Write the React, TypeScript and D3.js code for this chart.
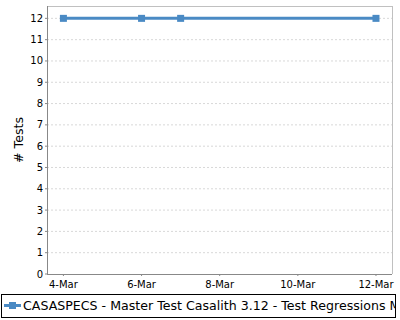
import React from "react";
import * as d3 from "d3";

const dates = ["2015-03-04", "2015-03-06", "2015-03-07", "2015-03-12"];
const tests = [12, 12, 12, 12];
const xTickLabels = ["4-Mar", "6-Mar", "8-Mar", "10-Mar", "12-Mar"];
const xTickDates = ["2015-03-04", "2015-03-06", "2015-03-08", "2015-03-10", "2015-03-12"];
const yTicks = [0, 1, 2, 3, 4, 5, 6, 7, 8, 9, 10, 11, 12];
const seriesName = "CASASPECS - Master Test Casalith 3.12 - Test Regressions Master";

const W = 400, H = 320;
const left = 47, right = 392, top = 6, bottom = 274;
const font = "DejaVu Sans, sans-serif";
const blue = "#4a8ac4";

function parse(s: string) {
  return new Date(s + "T00:00:00Z");
}

export default function App() {
  const t0 = parse(dates[0]).getTime();
  const day = 86400000;
  const x = d3.scaleUtc()
    .domain([new Date(t0 - 0.42 * day), new Date(parse("2015-03-12").getTime() + 0.41 * day)])
    .range([left, right]);
  const y = d3.scaleLinear().domain([0, 12.58]).range([bottom, top]);
  const pts = dates.map((d, i) => [x(parse(d)), y(tests[i])] as [number, number]);
  const line = d3.line()(pts) || "";
  return (
    <svg width={W} height={H} style={{ position: "absolute", left: 0, top: 0, background: "#fff" }} fontFamily={font}>
      <defs>
        <clipPath id="legclip">
          <rect x={2} y={294} width={393} height={24} />
        </clipPath>
      </defs>
      <rect x={0} y={0} width={W} height={H} fill="#fff" />
      {yTicks.map((v) => (
        <g key={v}>
          {v > 0 && (
            <line x1={left} x2={right} y1={y(v)} y2={y(v)} stroke="#d8d8d8" strokeWidth={1} strokeDasharray="2,2" />
          )}
          <line x1={left - 2} x2={left} y1={y(v)} y2={y(v)} stroke="#888" />
          <text x={left - 4} y={y(v)} dy="0.35em" textAnchor="end" fontSize={10} fill="#000">{v}</text>
        </g>
      ))}
      {xTickDates.map((d, i) => (
        <g key={d}>
          <line x1={x(parse(d))} x2={x(parse(d))} y1={bottom} y2={bottom + 2} stroke="#888" />
          <text x={x(parse(d))} y={bottom + 14} textAnchor="middle" fontSize={10} fill="#000">{xTickLabels[i]}</text>
        </g>
      ))}
      <line x1={left} x2={right} y1={top + 0.5} y2={top + 0.5} stroke="#c0c0c0" />
      <line x1={right + 0.5} x2={right + 0.5} y1={top} y2={bottom} stroke="#c0c0c0" />
      <line x1={left + 0.5} x2={left + 0.5} y1={top} y2={bottom} stroke="#888" />
      <line x1={left} x2={right} y1={bottom + 0.5} y2={bottom + 0.5} stroke="#888" />
      <path d={line} fill="none" stroke={blue} strokeWidth={3} />
      {pts.map(([px, py], i) => (
        <rect key={i} x={px - 3.5} y={py - 3.5} width={7} height={7} fill={blue} />
      ))}
      <text transform={`translate(22.5,${(top + bottom) / 2}) rotate(-90)`} textAnchor="middle" fontSize={12.6} fill="#000"># Tests</text>
      <rect x={1.5} y={294.5} width={394} height={23} fill="#fff" stroke="#000" />
      <line x1={4} x2={21} y1={305.5} y2={305.5} stroke={blue} strokeWidth={3} />
      <rect x={9} y={302} width={7} height={7} fill={blue} />
      <text x={23} y={310} fontSize={12.6} fill="#000" clipPath="url(#legclip)">{seriesName}</text>
    </svg>
  );
}
